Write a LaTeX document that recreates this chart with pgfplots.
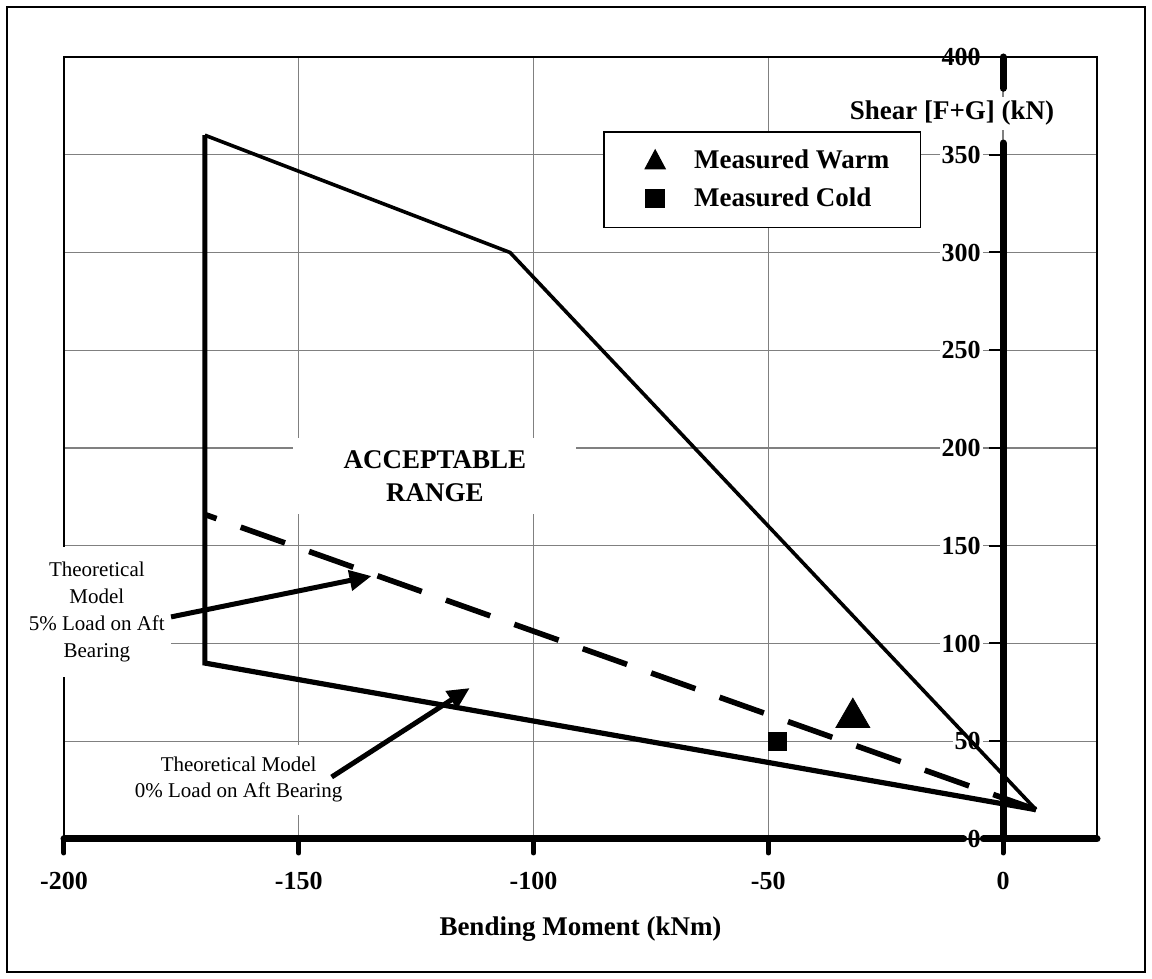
\documentclass[border=0pt]{standalone}
\usepackage{fontspec}
\setmainfont{Liberation Serif}
\usepackage{pgfplots}
\pgfplotsset{compat=1.18}
\usetikzlibrary{arrows.meta}
\begin{document}
\begin{tikzpicture}
\path[use as bounding box] (0,0) rectangle (576pt,489.5pt);
\draw[line width=1pt] (3.5pt,3.5pt) rectangle (572.5pt,486pt);
\begin{axis}[
  at={(32pt,70pt)}, anchor=south west,
  scale only axis, width=516.5pt, height=391pt,
  xmin=-200, xmax=20, ymin=0, ymax=400,
  axis lines=middle,
  axis line style={draw=none},
  hide obscured x ticks=false, hide obscured y ticks=false,
  xtick={-200,-150,-100,-50,0},
  ytick={0,50,100,150,200,250,300,350,400},
  grid=major,
  grid style={gray, line width=0.7pt},
  tick align=outside,
  major tick length=7pt,
  xtick style={line width=2.5pt, line cap=round, black},
  ytick style={line width=1pt, black},
  /pgf/number format/assume math mode=true,
  ticklabel style={font=\fontsize{13pt}{15pt}\selectfont\bfseries},
  xticklabel style={anchor=north, yshift=-6pt},
  yticklabel style={anchor=east, fill=white, inner sep=1pt, xshift=-3pt},
  xlabel={Bending Moment (kNm)},
  xlabel style={at={(rel axis cs:0.5,0)}, anchor=center, yshift=-45pt, font=\fontsize{13.5pt}{16pt}\selectfont\bfseries},
  ylabel={Shear [F+G] (kN)},
  ylabel style={at={(rel axis cs:0.8596,0.928)}, anchor=center, rotate=0, fill=white, inner sep=2pt, font=\fontsize{13.5pt}{16pt}\selectfont\bfseries},
  clip=false,
  legend cell align=left,
  legend style={at={(rel axis cs:0.676,0.843)}, anchor=center, draw=black, line width=0.8pt, fill=white,
    font=\fontsize{13.5pt}{16pt}\selectfont\bfseries, inner xsep=13.5pt, inner ysep=7pt, row sep=4pt},
]
% plot area frame
\draw[line width=1pt, black] (rel axis cs:0,0) rectangle (rel axis cs:1,1);
% thick axis lines through the origin (interrupted by the "0" tick label and the y label)
\draw[line width=3.5pt, line cap=round] (axis cs:-200,0) -- (axis cs:-8.4,0);
\draw[line width=3.5pt, line cap=round] (axis cs:-4.2,0) -- (axis cs:20,0);
\draw[line width=3.5pt, line cap=round] (axis cs:0,0) -- (axis cs:0,356);
\draw[line width=3.5pt, line cap=round] (axis cs:0,384) -- (axis cs:0,400);

% acceptable range boundary
\addplot[forget plot, black, line width=2.6pt, line join=miter] coordinates {(-170,360) (-170,90) (7,15)};
\addplot[forget plot, black, line width=1.8pt, line join=miter] coordinates {(-170,360) (-105,300) (7,15)};
% theoretical 5% load line
\addplot[forget plot, black, line width=2.8pt, dash pattern=on 23.5pt off 12.8pt, dash phase=17.3pt] coordinates {(-170,166) (7,15)};

% measured points
\addplot[forget plot, only marks, mark=triangle*, mark size=9.8pt, black] coordinates {(-32,62)};
\addplot[forget plot, only marks, mark=square*, mark size=4.5pt, black] coordinates {(-48,50)};

\addlegendimage{legend image code/.code={\path[draw=none, fill=none] (0pt,-5pt) rectangle (29.5pt,5pt); \fill[black] (7.2pt,-3.8pt) -- (16.8pt,-3.8pt) -- (12pt,5.2pt) -- cycle;}}
\addlegendentry{Measured Warm}
\addlegendimage{legend image code/.code={\path[draw=none, fill=none] (0pt,-5pt) rectangle (29.5pt,5pt); \fill[black] (7.5pt,-4.5pt) rectangle (16.5pt,4.5pt);}}
\addlegendentry{Measured Cold}

% annotations
\node[fill=white, font=\fontsize{13.5pt}{16.5pt}\selectfont\bfseries, align=center, minimum width=141.5pt, minimum height=38pt] at (axis cs:-121,185.7) {ACCEPTABLE\\RANGE};
\node[fill=white, font=\fontsize{10.5pt}{13.5pt}\selectfont, align=center, minimum width=74pt, minimum height=65pt] at (axis cs:-193,116) {Theoretical\\Model\\5\% Load on Aft\\Bearing};
\node[fill=white, font=\fontsize{10.5pt}{13pt}\selectfont, align=center, inner sep=6pt] at (axis cs:-162.8,30.2) {Theoretical Model\\0\% Load on Aft Bearing};
\draw[line width=2.5pt, -{Triangle[length=11pt, width=10pt]}] (axis cs:-177.2,113.6) -- (axis cs:-134.5,134.5);
\draw[line width=2.5pt, -{Triangle[length=11pt, width=10pt]}] (axis cs:-143,31.7) -- (axis cs:-113.6,77.2);
\end{axis}
\end{tikzpicture}
\end{document}
